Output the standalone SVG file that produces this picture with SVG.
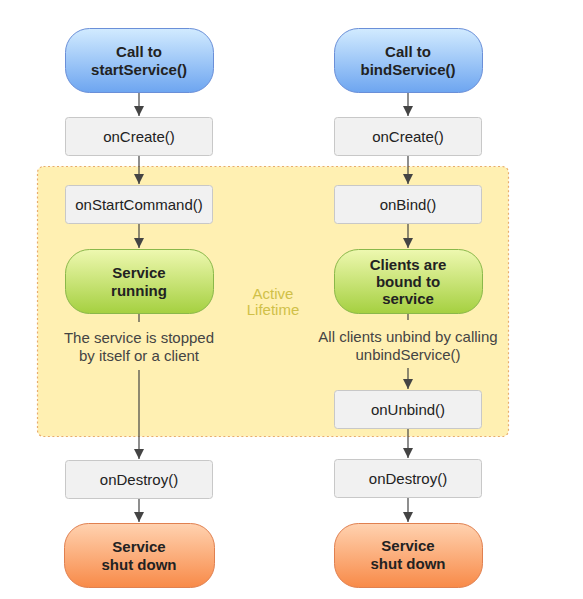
<svg xmlns="http://www.w3.org/2000/svg" width="583" height="599" viewBox="0 0 583 599">
<defs>
<linearGradient id="gBlue" x1="0" y1="0" x2="0" y2="1"><stop offset="0" stop-color="#d2ebff"/><stop offset="1" stop-color="#6da5f0"/></linearGradient>
<linearGradient id="gGreen" x1="0" y1="0" x2="0" y2="1"><stop offset="0" stop-color="#eef8b0"/><stop offset="1" stop-color="#a5d040"/></linearGradient>
<linearGradient id="gOrange" x1="0" y1="0" x2="0" y2="1"><stop offset="0" stop-color="#ffd2b0"/><stop offset="1" stop-color="#f88a48"/></linearGradient>
<marker id="arr" viewBox="0 0 10 10" refX="10" refY="5" markerWidth="10" markerHeight="10" markerUnits="userSpaceOnUse" orient="auto"><path d="M0,0 L10,5 L0,10 z" fill="#444"/></marker>
</defs>
<style>
.box{fill:#f1f1f1;stroke:#c8c8c8;stroke-width:1}
.blue{fill:url(#gBlue);stroke:#6a8fd8;stroke-width:1}
.green{fill:url(#gGreen);stroke:#8ab84a;stroke-width:1}
.orange{fill:url(#gOrange);stroke:#e08050;stroke-width:1}
.t{font-family:"Liberation Sans",Arial,sans-serif;font-size:15px;fill:#222;text-anchor:middle}
.b{font-weight:bold}
.note{font-family:"Liberation Sans",Arial,sans-serif;font-size:15px;fill:#444;text-anchor:middle}
.life{font-family:"Liberation Sans",Arial,sans-serif;font-size:15px;fill:#d0c048;text-anchor:middle}
.c{stroke:#444;stroke-width:1.2;fill:none}
</style>
<rect id="active" x="37.5" y="166.5" width="471" height="270" rx="6" fill="#fff0b2" stroke="#e8ac6c" stroke-width="1.2" stroke-dasharray="2,2.5"/>
<text class="life" x="273" y="299">Active</text>
<text class="life" x="273" y="315">Lifetime</text>
<g id="connectors">
<line class="c" x1="139" y1="92" x2="139" y2="116" marker-end="url(#arr)"/>
<line class="c" x1="139" y1="155" x2="139" y2="184" marker-end="url(#arr)"/>
<line class="c" x1="139" y1="223" x2="139" y2="248" marker-end="url(#arr)"/>
<line class="c" x1="139" y1="313" x2="139" y2="322"/>
<line class="c" x1="139" y1="370" x2="139" y2="459" marker-end="url(#arr)"/>
<line class="c" x1="139" y1="499" x2="139" y2="522" marker-end="url(#arr)"/>
<line class="c" x1="408" y1="92" x2="408" y2="116" marker-end="url(#arr)"/>
<line class="c" x1="408" y1="155" x2="408" y2="184" marker-end="url(#arr)"/>
<line class="c" x1="408" y1="223" x2="408" y2="248" marker-end="url(#arr)"/>
<line class="c" x1="408" y1="313" x2="408" y2="320"/>
<line class="c" x1="408" y1="368" x2="408" y2="389" marker-end="url(#arr)"/>
<line class="c" x1="408" y1="428" x2="408" y2="458" marker-end="url(#arr)"/>
<line class="c" x1="408" y1="498" x2="408" y2="522" marker-end="url(#arr)"/>
</g>
<g id="noteLeft"><text class="note" x="139" y="343">The service is stopped</text><text class="note" x="139" y="361">by itself or a client</text></g>
<g id="noteRight"><text class="note" x="408" y="342">All clients unbind by calling</text><text class="note" x="408" y="360">unbindService()</text></g>
<g id="startService"><rect class="blue" x="65.5" y="28.5" width="148" height="64" rx="24"/><text class="t b" x="139" y="57">Call to</text><text class="t b" x="139" y="75">startService()</text></g>
<g id="onCreateL"><rect class="box" x="65.5" y="117.5" width="147" height="38" rx="3"/><text class="t" x="139" y="142">onCreate()</text></g>
<g id="onStartCommand"><rect class="box" x="65.5" y="185.5" width="147" height="38" rx="3"/><text class="t" x="139" y="210">onStartCommand()</text></g>
<g id="serviceRunning"><rect class="green" x="65.5" y="249.5" width="148" height="64" rx="24"/><text class="t b" x="139" y="278">Service</text><text class="t b" x="139" y="296">running</text></g>
<g id="onDestroyL"><rect class="box" x="65.5" y="460.5" width="147" height="38" rx="3"/><text class="t" x="139" y="485">onDestroy()</text></g>
<g id="shutDownL"><rect class="orange" x="64.5" y="523.5" width="150" height="64" rx="24"/><text class="t b" x="139" y="552">Service</text><text class="t b" x="139" y="570">shut down</text></g>
<g id="bindService"><rect class="blue" x="334.5" y="28.5" width="148" height="64" rx="24"/><text class="t b" x="408" y="57">Call to</text><text class="t b" x="408" y="75">bindService()</text></g>
<g id="onCreateR"><rect class="box" x="334.5" y="117.5" width="147" height="38" rx="3"/><text class="t" x="408" y="142">onCreate()</text></g>
<g id="onBind"><rect class="box" x="334.5" y="185.5" width="147" height="38" rx="3"/><text class="t" x="408" y="210">onBind()</text></g>
<g id="clientsBound"><rect class="green" x="334.5" y="249.5" width="148" height="64" rx="24"/><text class="t b" x="408" y="270">Clients are</text><text class="t b" x="408" y="287">bound to</text><text class="t b" x="408" y="304">service</text></g>
<g id="onUnbind"><rect class="box" x="334.5" y="390.5" width="147" height="38" rx="3"/><text class="t" x="408" y="415">onUnbind()</text></g>
<g id="onDestroyR"><rect class="box" x="334.5" y="459.5" width="147" height="38" rx="3"/><text class="t" x="408" y="484">onDestroy()</text></g>
<g id="shutDownR"><rect class="orange" x="334.5" y="523.5" width="148" height="64" rx="24"/><text class="t b" x="408" y="551">Service</text><text class="t b" x="408" y="569">shut down</text></g>
</svg>
